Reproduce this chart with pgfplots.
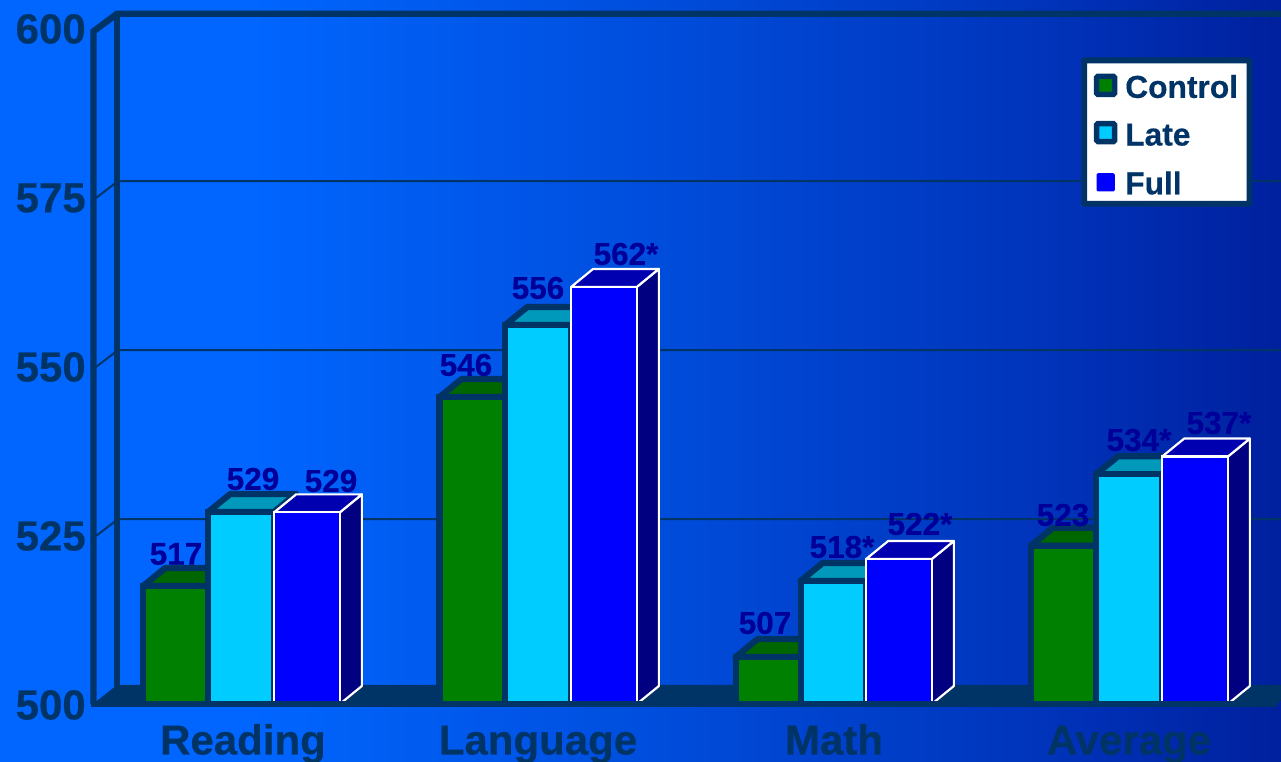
\documentclass[border=0pt]{standalone}
\usepackage{pgfplots}
\usepackage{pgfplotstable}
\usepackage{fontspec}
\setmainfont{Liberation Sans}[BoldFeatures={FakeBold=0.4}]
\pgfplotsset{compat=1.18}
\definecolor{dk}{HTML}{003366}
\definecolor{lab}{HTML}{000099}
\definecolor{cg}{HTML}{008000}
\definecolor{cgt}{HTML}{006600}
\definecolor{cl}{HTML}{00CCFF}
\definecolor{clt}{HTML}{0099BB}
\definecolor{cf}{HTML}{0000FF}
\definecolor{cft}{HTML}{0000B0}
\definecolor{cfs}{HTML}{000080}
\definecolor{bgA}{HTML}{0066FF}
\definecolor{bgB}{HTML}{004EDD}
\definecolor{bgC}{HTML}{0034BB}
\definecolor{bgD}{HTML}{00209E}
\pgfdeclarehorizontalshading{bgshade}{100bp}{
  color(0bp)=(bgA); color(25bp)=(bgA); color(34.8bp)=(bgA);
  color(50bp)=(bgB); color(65.6bp)=(bgC); color(75bp)=(bgD); color(100bp)=(bgD)}
\def\px{0.75pt}
% x centre of the bar, value of the bar, in axis units
\pgfplotstableread{
x v
176 517.46
472.3 545.4
768.5 506.95
1063.7 523.4
}\control
\pgfplotstableread{
x v
241 528.4
538 556.06
833.5 518.2
1129 534.0
}\late
\pgfplotstableread{
x v
307 528.35
604 561.7
899 521.45
1195 536.6
}\full
\pgfplotstableread{
x y label
176 522.19 517
253 533.29 529
331 532.99 529
466 550.15 546
538 561.54 556
626 566.57 562*
765 511.98 507
842 523.23 518*
920 526.63 522*
1063 527.96 523
1139 539.05 534*
1219 541.57 537*
}\labels
% top and side faces of a bar: centre, value, top fill, side fill, line colour, line width
\newcommand\faces[6]{%
  \pgfmathsetmacro\xa{#1-32.85}%
  \pgfmathsetmacro\xb{#1+32.85}%
  \pgfmathsetmacro\xc{#1-32.85+22}%
  \pgfmathsetmacro\xd{#1+32.85+22}%
  \pgfmathsetmacro\vb{#2+2.66}%
  \addplot[forget plot,fill=#4,draw=#5,line width=#6,line join=round] coordinates {(\xb,500)(\xd,502.66)(\xd,\vb)(\xb,#2)} -- cycle;
  \addplot[forget plot,fill=#3,draw=#5,line width=#6,line join=round] coordinates {(\xa,#2)(\xc,\vb)(\xd,\vb)(\xb,#2)} -- cycle;
}
\begin{document}
\begin{tikzpicture}
\begin{axis}[
  name=ax,
  scale only axis,
  width=1281*\px,height=762*\px,
  xmin=0,xmax=1281,
  ymin=491.42,ymax=604.14,
  y coord trafo/.code={\pgfmathparse{#1-500}},
  y coord inv trafo/.code={\pgfmathparse{#1+500}},
  clip=false,
  axis line style={draw=none},
  major tick length=0pt,
  axis background/.style={shade,shading=bgshade},
  xtick={243,538,834,1129},
  xticklabels={Reading,Language,Math,Average},
  ytick={500,525,550,575,600},
  yticklabels={500,525,550,575,600},
  tick label style={font=\fontsize{31.5}{36}\selectfont\bfseries,text=dk,inner sep=0pt},
  yticklabel style={anchor=east,xshift=86*\px,yshift=-1*\px},
  xticklabel style={anchor=base,yshift=7.5*\px},
  legend style={at={(1081.4/1281,1-57.5/762)},anchor=north west,
    draw=dk,line width=5.8*\px,fill=white,rounded corners=0.5pt,
    font=\fontsize{23.8}{26}\selectfont\bfseries,text=dk,
    inner xsep=6.5*\px,inner ysep=7.5*\px,row sep=23.8*\px,
    legend cell align=left,
    nodes={inner sep=0pt}},
]
% walls and floor
\addplot[forget plot,fill=dk,draw=none] coordinates {(93,499.56)(93,500)(117,502.81)(1281,502.81)(1281,500.59)(1275,499.56)} -- cycle;
\addplot[forget plot,draw=dk,line width=2*\px] coordinates {(96,524.85)(118,527.35)(1281,527.35)};
\addplot[forget plot,draw=dk,line width=2*\px] coordinates {(96,549.85)(118,552.35)(1281,552.35)};
\addplot[forget plot,draw=dk,line width=2*\px] coordinates {(96,574.85)(118,577.35)(1281,577.35)};
\addplot[forget plot,draw=dk,line width=6.4*\px,line join=miter] coordinates {(93.5,500)(93.5,599.5)(117,602.1)(1281,602.1)};
\addplot[forget plot,draw=dk,line width=6.4*\px] coordinates {(117,602.1)(117,502.5)};
% control
\faces{176}{517.46}{cgt}{cgt}{dk}{6.2*\px}
\faces{472.3}{545.4}{cgt}{cgt}{dk}{6.2*\px}
\faces{768.5}{506.95}{cgt}{cgt}{dk}{6.2*\px}
\faces{1063.7}{523.4}{cgt}{cgt}{dk}{6.2*\px}
\addplot[ybar,bar width=65.7,bar shift=0pt,fill=cg,draw=dk,line width=6.2*\px,
  legend image code/.code={\filldraw[overlay,fill=cg,draw=dk,line width=5.5*\px,rounded corners=1pt] (0,-10.5*\px) rectangle (18*\px,7.5*\px); \path (-2.75*\px,-1*\px) (25.5*\px,1*\px);}]
  table[x=x,y=v]{\control};
% late
\faces{241}{528.4}{clt}{clt}{dk}{6.2*\px}
\faces{538}{556.06}{clt}{clt}{dk}{6.2*\px}
\faces{833.5}{518.2}{clt}{clt}{dk}{6.2*\px}
\faces{1129}{534.0}{clt}{clt}{dk}{6.2*\px}
\addplot[ybar,bar width=65.7,bar shift=0pt,fill=cl,draw=dk,line width=6.2*\px,
  legend image code/.code={\filldraw[overlay,fill=cl,draw=dk,line width=5.5*\px,rounded corners=1pt] (0,-6*\px) rectangle (18*\px,12*\px); \path (-2.75*\px,-1*\px) (25.5*\px,1*\px);}]
  table[x=x,y=v]{\late};
% full
\faces{307}{528.35}{cft}{cfs}{white}{2.2*\px}
\faces{604}{561.7}{cft}{cfs}{white}{2.2*\px}
\faces{899}{521.45}{cft}{cfs}{white}{2.2*\px}
\faces{1195}{536.6}{cft}{cfs}{white}{2.2*\px}
\addplot[ybar,bar width=65.7,bar shift=0pt,fill=cf,draw=white,line width=2.2*\px,
  legend image code/.code={\fill[overlay,cf] (1*\px,-6.5*\px) rectangle (17*\px,9.5*\px); \path (-2.75*\px,-1*\px) (25.5*\px,1*\px);}]
  table[x=x,y=v]{\full};
% front axis line
\addplot[forget plot,draw=dk,line width=6*\px] coordinates {(90.5,500)(1276,500)};
% value labels
\addplot[forget plot,draw=none,mark=none,point meta=explicit symbolic,
  nodes near coords,
  nodes near coords style={anchor=center,inner sep=0pt,text=lab,font=\fontsize{23.6}{26}\selectfont\bfseries}]
  table[x=x,y=y,meta=label]{\labels};
\legend{{\rule{0pt}{22.5pt}Control\hspace*{3.75pt}},Late,Full}
\end{axis}
\pgfresetboundingbox
\path[use as bounding box] (ax.south west) rectangle (ax.north east);
\end{tikzpicture}
\end{document}
